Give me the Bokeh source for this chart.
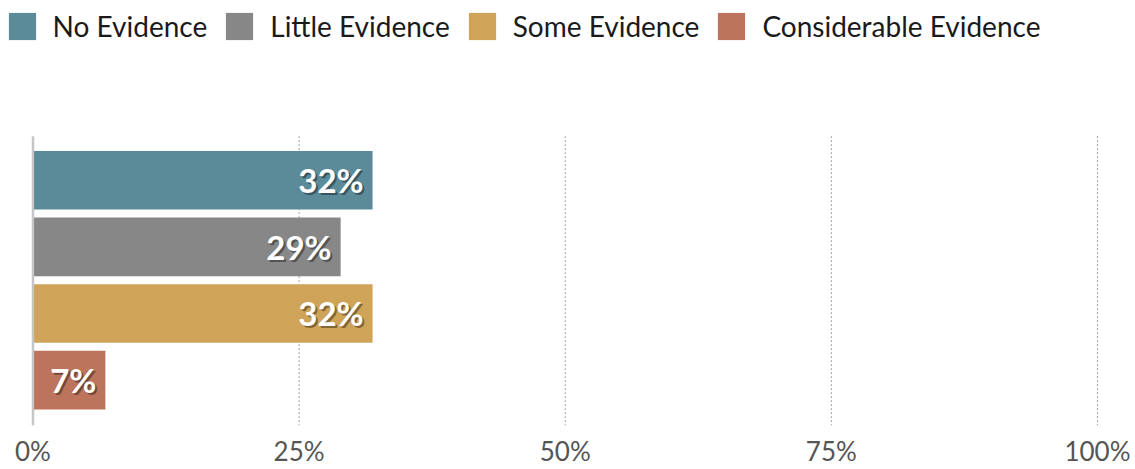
from bokeh.plotting import figure
from bokeh.models import ColumnDataSource, Range1d, FixedTicker, Legend, LegendItem
from bokeh.embed import file_html
from bokeh.resources import INLINE
from bokeh.core.properties import value

categories = ["No Evidence", "Little Evidence", "Some Evidence", "Considerable Evidence"]
values = [31.9, 28.9, 31.9, 6.8]
labels = ["32%", "29%", "32%", "7%"]
colors = ["#5b8a98", "#878787", "#d0a458", "#bc745c"]
x_ticks = [0, 25, 50, 75, 100]
x_tick_labels = ["0%", "25%", "50%", "75%", "100%"]
grid_ticks = [25, 50, 75, 100]

FONT = "Lato"

# category band extent (in category units) used for the axis line and grid lines
band_lo, band_hi = -0.663, 3.682

p = figure(width=1135, height=469, output_backend="svg", toolbar_location=None,
           title=None,
           x_range=Range1d(-3.053, 103.57), y_range=Range1d(3.682, -2.700),
           min_border_left=0, min_border_right=0, min_border_top=0,
           min_border_bottom=43)
p.outline_line_color = None
p.background_fill_color = "white"
p.border_fill_color = "white"
p.xgrid.grid_line_color = None
p.ygrid.grid_line_color = None
p.yaxis.visible = False

# dashed vertical grid lines, spanning the category band only
p.segment(x0=grid_ticks, x1=grid_ticks, y0=[band_lo] * len(grid_ticks),
          y1=[band_hi] * len(grid_ticks), line_color="#a0a0a0", line_width=1,
          line_dash="2 2")
# baseline (0%) axis line
p.segment(x0=[0], x1=[0], y0=[band_lo], y1=[band_hi], line_color="#c6c6c6",
          line_width=2.5)

ypos = list(range(len(categories)))
src = ColumnDataSource(dict(y=ypos, v=values, lab=labels))

items = []
for i, cat in enumerate(categories):
    s = ColumnDataSource(dict(y=[ypos[i]], v=[values[i]]))
    r = p.hbar(y="y", right="v", left=0.1, height=0.88, source=s,
               fill_color=colors[i], line_color=None)
    items.append(LegendItem(label=cat, renderers=[r]))

# label shadows, then labels
p.text(x="v", y="y", text="lab", source=src, text_align="right", text_baseline="middle",
       x_offset=-7, y_offset=2, text_color="black", text_alpha=0.4,
       text_font=value(FONT), text_font_style="bold", text_font_size="33px")
p.text(x="v", y="y", text="lab", source=src, text_align="right", text_baseline="middle",
       x_offset=-9, y_offset=0, text_color="white",
       text_font=value(FONT), text_font_style="bold", text_font_size="33px")

# x axis
p.xaxis.ticker = FixedTicker(ticks=x_ticks)
p.xaxis.major_label_overrides = {t: l for t, l in zip(x_ticks, x_tick_labels)}
p.xaxis.axis_line_color = None
p.xaxis.major_tick_line_color = None
p.xaxis.minor_tick_line_color = None
p.xaxis.major_tick_out = 0
p.xaxis.major_tick_in = 0
p.xaxis.minor_tick_out = 0
p.xaxis.minor_tick_in = 0
p.xaxis.major_label_text_font = FONT
p.xaxis.major_label_text_font_size = "26px"
p.xaxis.major_label_text_color = "#555555"
p.xaxis.major_label_standoff = 9

legend = Legend(items=items, orientation="horizontal", location=(4.6, 382.5),
                glyph_width=34, glyph_height=34, label_standoff=14, spacing=15,
                label_text_font=FONT, label_text_font_size="28px",
                label_text_color="#1a1a1a", padding=0, margin=0,
                border_line_color=None, background_fill_alpha=0)
p.add_layout(legend, "center")

open("out.html", "w").write(file_html(p, INLINE))
